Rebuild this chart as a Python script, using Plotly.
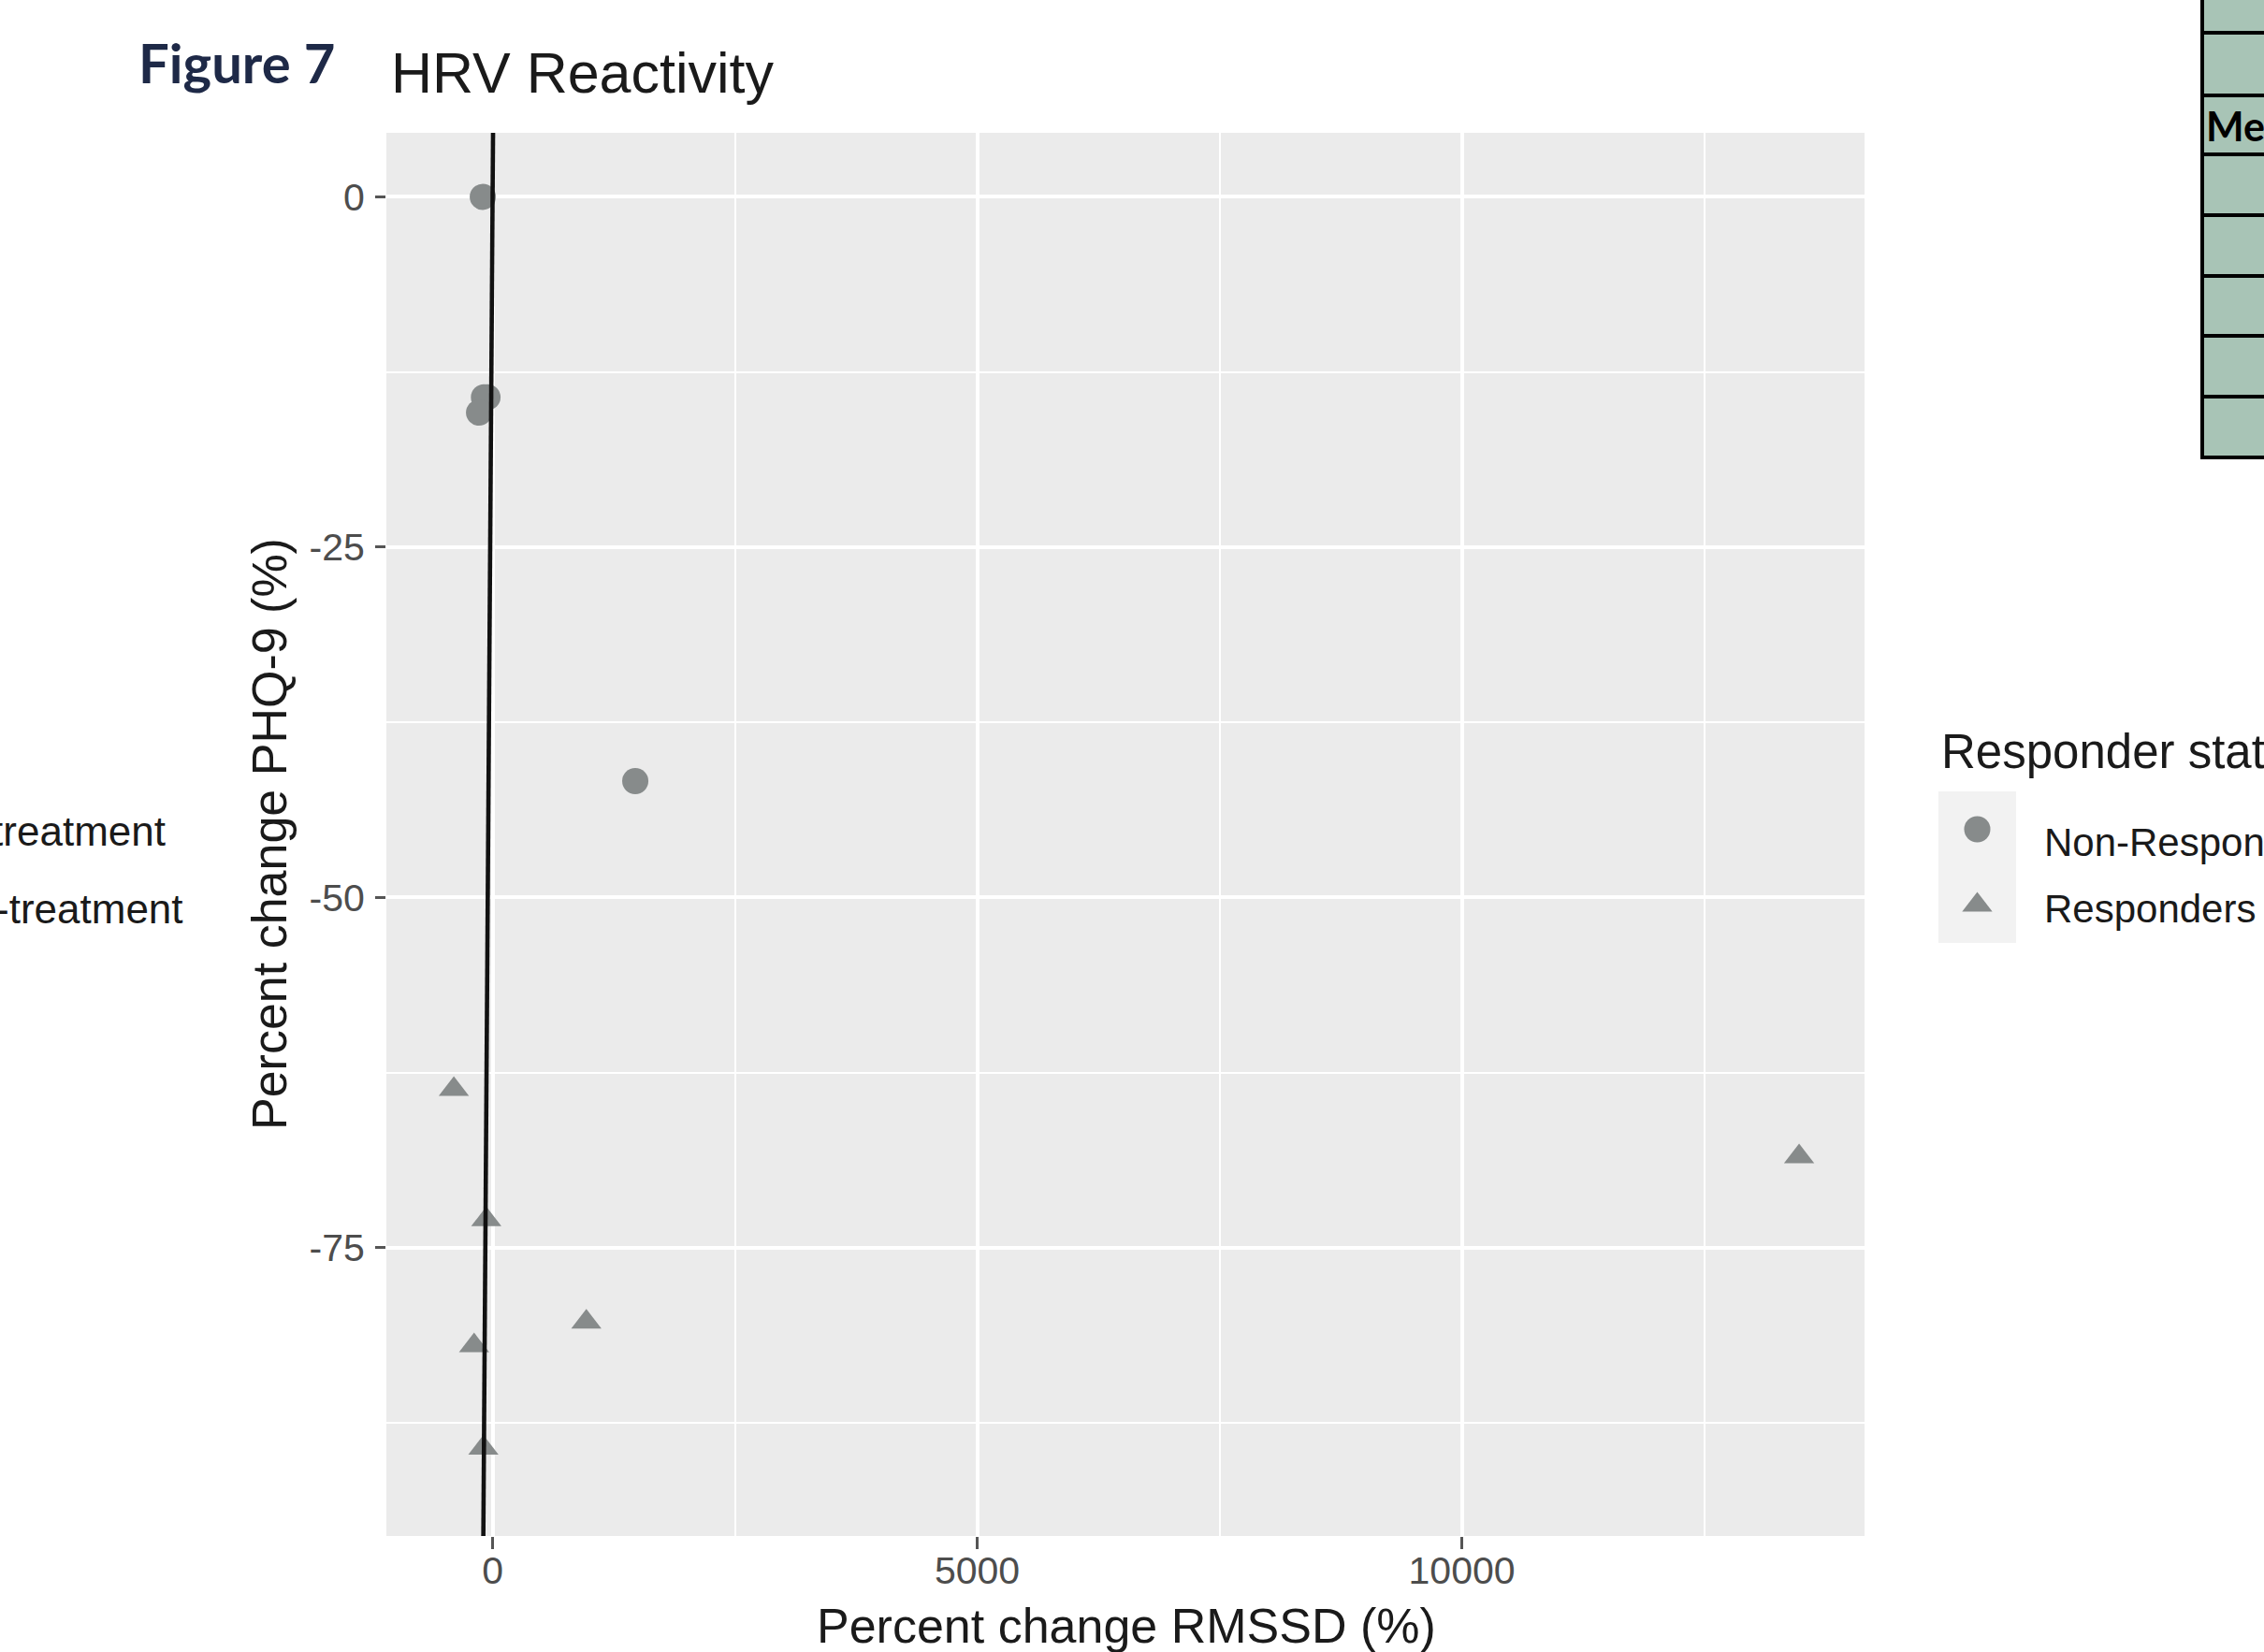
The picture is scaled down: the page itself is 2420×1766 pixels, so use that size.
import plotly.graph_objects as go

FIG_W, FIG_H = 2420, 1766

# Percent change in RMSSD (x) against percent change in PHQ-9 (y), per group
non_resp_rmssd = [-101, -89, -53, -140, 1472]
non_resp_phq9 = [0.0, -14.3, -14.3, -15.4, -41.7]

resp_rmssd = [-400, -65, 967, -191, -95, 13480]
resp_phq9 = [-63.7, -73.0, -80.3, -82.0, -89.3, -68.5]

group_names = ["Non-Responders", "Responders"]
group_symbols = ["circle", "triangle-up"]

x_tick_vals = [0, 5000, 10000]
x_tick_text = ["0", "5000", "10000"]
y_tick_vals = [0, -25, -50, -75]
y_tick_text = ["0", "-25", "-50", "-75"]

# reference line y = intercept + slope * x
abline_intercept = 0.0
abline_slope = 1.0

X_RANGE = [-1096, 14155]
Y_RANGE = [-95.58, 4.57]

# page layout in pixels
PANEL = dict(left=413, right=1993, top=142, bottom=1642)
KEYBOX = dict(left=2072, right=2155, top=846, bottom=1008)

POINT_COLOR = "#878b8b"
TXT = "Liberation Sans"


def fx(px):
    return px / FIG_W


def fy(py):
    return 1 - py / FIG_H


fig = go.Figure()

marker_sizes = [28, 28]
fig.add_trace(go.Scatter(
    x=non_resp_rmssd, y=non_resp_phq9, mode="markers", name=group_names[0],
    marker=dict(symbol=group_symbols[0], size=marker_sizes[0], color=POINT_COLOR,
                line=dict(width=0)),
    showlegend=False, hoverinfo="skip",
))
fig.add_trace(go.Scatter(
    x=resp_rmssd, y=resp_phq9, mode="markers", name=group_names[1],
    marker=dict(symbol=group_symbols[1], size=marker_sizes[1], color=POINT_COLOR,
                line=dict(width=0)),
    showlegend=False, hoverinfo="skip",
))

# identity line spanning the full vertical range of the panel
line_y = list(Y_RANGE)
line_x = [(v - abline_intercept) / abline_slope for v in line_y]
fig.add_trace(go.Scatter(
    x=line_x, y=line_y, mode="lines",
    line=dict(color="#111111", width=4.6),
    showlegend=False, hoverinfo="skip",
))

# legend keys drawn on a small helper subplot
for i, (nm, sym) in enumerate(zip(group_names, group_symbols)):
    fig.add_trace(go.Scatter(
        x=[0.5], y=[i + 0.5], mode="markers", xaxis="x2", yaxis="y2",
        marker=dict(symbol=sym, size=marker_sizes[i], color=POINT_COLOR, line=dict(width=0)),
        showlegend=False, hoverinfo="skip", cliponaxis=False,
    ))

fig.update_layout(
    width=FIG_W, height=FIG_H,
    margin=dict(l=0, r=0, t=0, b=0, pad=0),
    paper_bgcolor="white",
    plot_bgcolor="#EBEBEB",
    font=dict(family=TXT, color="#1a1a1a"),
    xaxis=dict(
        domain=[fx(PANEL["left"]), fx(PANEL["right"])],
        range=X_RANGE, autorange=False,
        tickmode="array", tickvals=x_tick_vals, ticktext=x_tick_text,
        ticks="outside", ticklen=13, tickwidth=3, tickcolor="#555555",
        tickfont=dict(family=TXT, size=41, color="#4D4D4D"),
        ticklabelstandoff=-12,
        showgrid=True, gridcolor="white", gridwidth=3.5,
        minor=dict(tick0=0, dtick=2500, showgrid=True, gridcolor="white", gridwidth=2),
        zeroline=False, showline=False, automargin=False, anchor="y",
    ),
    yaxis=dict(
        domain=[fy(PANEL["bottom"]), fy(PANEL["top"])],
        range=Y_RANGE, autorange=False,
        tickmode="array", tickvals=y_tick_vals, ticktext=y_tick_text,
        ticks="outside", ticklen=11, tickwidth=3, tickcolor="#555555",
        tickfont=dict(family=TXT, size=41, color="#4D4D4D"),
        ticklabelstandoff=3,
        showgrid=True, gridcolor="white", gridwidth=3.5,
        minor=dict(tick0=0, dtick=12.5, showgrid=True, gridcolor="white", gridwidth=2),
        zeroline=False, showline=False, automargin=False, anchor="x",
    ),
    xaxis2=dict(domain=[fx(KEYBOX["left"]), fx(KEYBOX["right"])], range=[0, 1],
                visible=False, anchor="y2", fixedrange=True),
    yaxis2=dict(domain=[fy(KEYBOX["bottom"]), fy(KEYBOX["top"])], range=[2, 0],
                visible=False, anchor="x2", fixedrange=True),
)

shapes = [
    # legend key background
    dict(type="rect", xref="x2 domain", yref="y2 domain", x0=0, x1=1, y0=0, y1=1,
         fillcolor="#F2F2F2", line=dict(width=0), layer="below"),
    # neighbouring table, partly visible at the right edge
    dict(type="rect", xref="paper", yref="paper", x0=fx(2354), x1=fx(2460),
         y0=fy(489), y1=fy(-20), fillcolor="#A8C4B6",
         line=dict(color="black", width=4), layer="above"),
]
for row_y in [35, 102, 165, 230, 295, 359, 424]:
    shapes.append(dict(type="line", xref="paper", yref="paper", x0=fx(2354), x1=fx(2460),
                       y0=fy(row_y), y1=fy(row_y), line=dict(color="black", width=4),
                       layer="above"))
fig.update_layout(shapes=shapes)


def note(text, px, py, size, xanchor="left", color="#1a1a1a", family=TXT, angle=0,
         weight="normal"):
    fig.add_annotation(
        text=text, x=fx(px), y=fy(py), xref="paper", yref="paper",
        xanchor=xanchor, yanchor="middle", showarrow=False, textangle=angle,
        font=dict(family=family, size=size, color=color, weight=weight),
    )


note("Figure 7", 146, 67, 58, family="Lato", color="#1E2947", weight="bold")
note("HRV Reactivity", 416, 78, 61)
note("Percent change RMSSD (%)", 1204, 1738, 52, xanchor="center")
note("Percent change PHQ-9 (%)", 288, 892, 52, xanchor="center", angle=-90)
note("Responder status", 2073, 803, 51)
note(group_names[0], 2183, 900, 42)
note(group_names[1], 2183, 971, 42)
note("Pre-treatment", 179, 889, 44, xanchor="right")
note("Post-treatment", 198, 972, 44, xanchor="right")
note("Median", 2356, 135, 43, family="Lato", color="black", weight="bold")

fig.write_html("out.html")
